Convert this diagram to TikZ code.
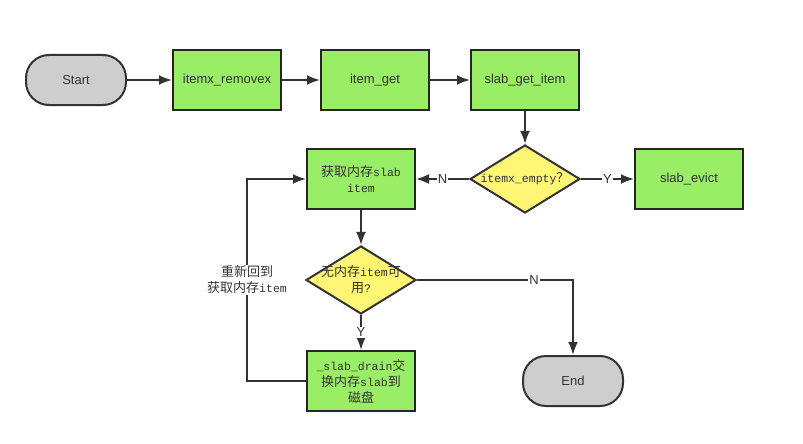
\documentclass[tikz,border=0pt]{standalone}
\usepackage{fontspec}
\setmainfont{Liberation Sans}
\setmonofont{Liberation Mono}
\newfontfamily\cjk{Noto Sans CJK SC}
\usetikzlibrary{shapes,arrows.meta,positioning}
\definecolor{boxgreen}{RGB}{153,238,102}
\definecolor{condyellow}{RGB}{255,246,117}
\definecolor{termgray}{RGB}{206,206,206}
\definecolor{linegray}{RGB}{51,51,51}
\newcommand{\zh}[1]{{\fontsize{13}{16}\selectfont\cjk #1}}

\begin{document}
\begin{tikzpicture}[
    x=1pt, y=-1pt,
    font=\fontsize{13}{16}\selectfont, text=linegray,
    box/.style={rectangle, draw=black!85, line width=2pt, fill=boxgreen, minimum width=108pt, minimum height=60pt, align=center},
    term/.style={rectangle, rounded corners=23pt, draw=linegray, line width=2pt, fill=termgray, minimum width=100pt, minimum height=50pt},
    cond/.style={diamond, shape aspect=1.6, draw=linegray, line width=2pt, fill=condyellow, minimum width=110pt, minimum height=68pt, inner sep=0pt, align=center},
    cn/.style={font=\fontsize{11.5}{16}\selectfont\ttfamily, align=center},
    arrow/.style={-{Latex[length=13pt,width=10pt]}, line width=2pt, draw=linegray},
    lbl/.style={fill=white, inner sep=1pt}
]
    \useasboundingbox (0,0) rectangle (803,444);

    % Top row
    \node[term] (start) at (76,80) {Start};
    \node[box, right=45pt of start] (remove) {itemx\_removex};
    \node[box, right=38pt of remove] (get) {item\_get};
    \node[box, right=40pt of get] (slabget) {slab\_get\_item};

    % First check
    \node[cond, cn, below=33pt of slabget] (empty) {itemx\_empty\zh{？}};
    \node[box, cn, left=53pt of empty] (fetch) {\zh{获取内存}slab\\item};
    \node[box, right=53pt of empty] (evict) {slab\_evict};

    % Second check
    \node[cond, cn, inner sep=-6pt, below=35pt of fetch] (nomem) {\zh{无内存}item\zh{可}\\\zh{用}?};
    \node[box, cn, below=35pt of nomem] (drain) {\_slab\_drain\zh{交}\\\zh{换内存}slab\zh{到}\\\zh{磁盘}};
    \node[term, right=106pt of drain] (end) {End};

    % Arrows
    \draw[arrow] (start) -- (remove);
    \draw[arrow] (remove) -- (get);
    \draw[arrow] (get) -- (slabget);
    \draw[arrow] (slabget) -- (empty);
    \draw[arrow] (empty) -- node[lbl]{N} (fetch);
    \draw[arrow] (empty) -- node[lbl]{Y} (evict);
    \draw[arrow] (fetch) -- (nomem);
    \draw[arrow] (nomem) -- node[lbl]{Y} (drain);
    \draw[arrow] (nomem) -| node[lbl, pos=0.375]{N} (end);

    % Loop back
    \draw[arrow] (drain.west) -- ++(-59,0) |- node[lbl, cn, pos=0.25]{\zh{重新回到}\\\zh{获取内存}item} (fetch.west);

\end{tikzpicture}
\end{document}
